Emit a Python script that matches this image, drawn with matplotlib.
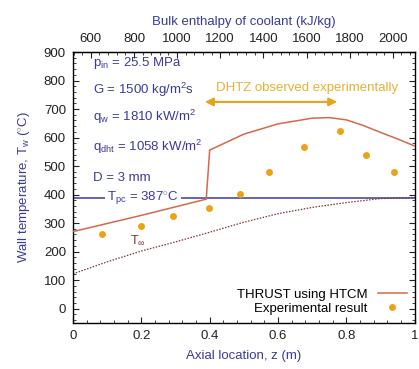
import numpy as np
import matplotlib
matplotlib.use('Agg')
from matplotlib import pyplot as plt
from matplotlib.ticker import MultipleLocator, FixedLocator

plt.rcParams['font.family'] = ['Liberation Sans', 'DejaVu Sans']
plt.rcParams['mathtext.fontset'] = 'custom'
plt.rcParams['mathtext.rm'] = 'Liberation Sans'
plt.rcParams['mathtext.it'] = 'Liberation Sans'

# experimental wall temperatures
z_exp = [0.085, 0.198, 0.294, 0.397, 0.49, 0.573, 0.677, 0.781, 0.856, 0.94]
t_exp = [262, 291, 326, 352, 401, 478, 566, 624, 540, 480]

# THRUST using HTCM
z_thrust = [0.0, 0.2, 0.39, 0.40, 0.5, 0.6, 0.7, 0.75, 0.8, 0.85, 0.9, 0.95, 1.0]
t_thrust = [270, 327, 384, 556, 612, 648, 668, 670, 662, 642, 618, 595, 570]

# bulk temperature
z_bulk = [0.0, 0.1, 0.2, 0.3, 0.4, 0.5, 0.6, 0.7, 0.8, 0.9, 1.0]
t_bulk = [122, 164, 202, 234, 268, 303, 333, 355, 372, 386, 390]

t_pc = 387
h_in, h_out = 517, 2102   # bulk enthalpy at z=0 and z=1
h_ticks = [600, 800, 1000, 1200, 1400, 1600, 1800, 2000]

blue = '#3a3a9c'
fig = plt.figure(figsize=(4.19, 3.69), dpi=100)
ax = fig.add_axes([0.174, 0.125, 0.816, 0.734])

ax.axhline(t_pc, color=blue, lw=1.1, zorder=1)
ax.plot(z_bulk, t_bulk, color='#7d3535', lw=0.9, ls=(0, (1.2, 1.2)), zorder=2)
ax.plot(z_thrust, t_thrust, color='#d4694a', lw=1.1, label='THRUST using HTCM', zorder=3)
ax.plot(z_exp, t_exp, 'o', color='#e8a318', ms=5, mec='none', label='Experimental result', zorder=4)

ax.set_xlim(0, 1)
ax.set_ylim(-50, 900)
ax.xaxis.set_minor_locator(MultipleLocator(0.04))
ax.yaxis.set_major_locator(MultipleLocator(100))
ax.yaxis.set_minor_locator(MultipleLocator(20))
ax.set_xticks([0, 0.2, 0.4, 0.6, 0.8, 1.0])
ax.set_xticklabels(['0', '0.2', '0.4', '0.6', '0.8', '1'])
ax.tick_params(which='both', direction='in', top=False, right=True, labelsize=9.5, colors='#222222', pad=5)
ax.tick_params(which='major', length=4)
ax.tick_params(which='minor', length=2)
for s in ax.spines.values():
    s.set_linewidth(1.0)

sec = ax.secondary_xaxis('top', functions=(lambda z: h_in + z * (h_out - h_in),
                                          lambda h: (h - h_in) / (h_out - h_in)))
sec.xaxis.set_major_locator(FixedLocator(h_ticks))
sec.xaxis.set_minor_locator(MultipleLocator(40))
sec.tick_params(which='both', direction='in', labelsize=9.5, colors='#222222', pad=5)
sec.tick_params(which='major', length=4)
sec.tick_params(which='minor', length=2)
sec.set_xlabel('Bulk enthalpy of coolant (kJ/kg)', color=blue, fontsize=9.5, labelpad=6)

ax.set_xlabel('Axial location, z (m)', color=blue, fontsize=9.5, labelpad=6)
ax.set_ylabel('Wall temperature, T$_w$ ($^{\\circ}$C)', color=blue, fontsize=9.5, labelpad=8)

params = ['p$_{in}$ = 25.5 MPa', 'G = 1500 kg/m$^2$s', 'q$_w$ = 1810 kW/m$^2$',
          'q$_{dht}$ = 1058 kW/m$^2$', 'D = 3 mm']
for txt, yy in zip(params, [861, 766, 672, 566, 457]):
    ax.text(0.058, yy, txt, color=blue, fontsize=9.5, va='center', ha='left')

ax.text(0.205, t_pc, 'T$_{pc}$ = 387$^{\\circ}$C', color=blue, fontsize=9.5, ha='center', va='center',
        bbox=dict(facecolor='white', edgecolor='none', pad=1.5), zorder=2)
ax.text(0.19, 239, 'T$_{\\infty}$', color='#8b2a2a', fontsize=9, ha='center', va='center')

ax.annotate('', xy=(0.378, 725), xytext=(0.781, 725),
            arrowprops=dict(arrowstyle='<|-|>', color='#e8a318', lw=1.5, mutation_scale=12))
ax.text(0.684, 773, 'DHTZ observed experimentally', color='#e8b030', fontsize=9.5, ha='center', va='center')

ax.legend(loc='lower right', frameon=False, fontsize=9.5, markerfirst=False, handlelength=2.2,
          labelspacing=0.15, borderaxespad=0.2)

fig.savefig('out.png', dpi=100)
